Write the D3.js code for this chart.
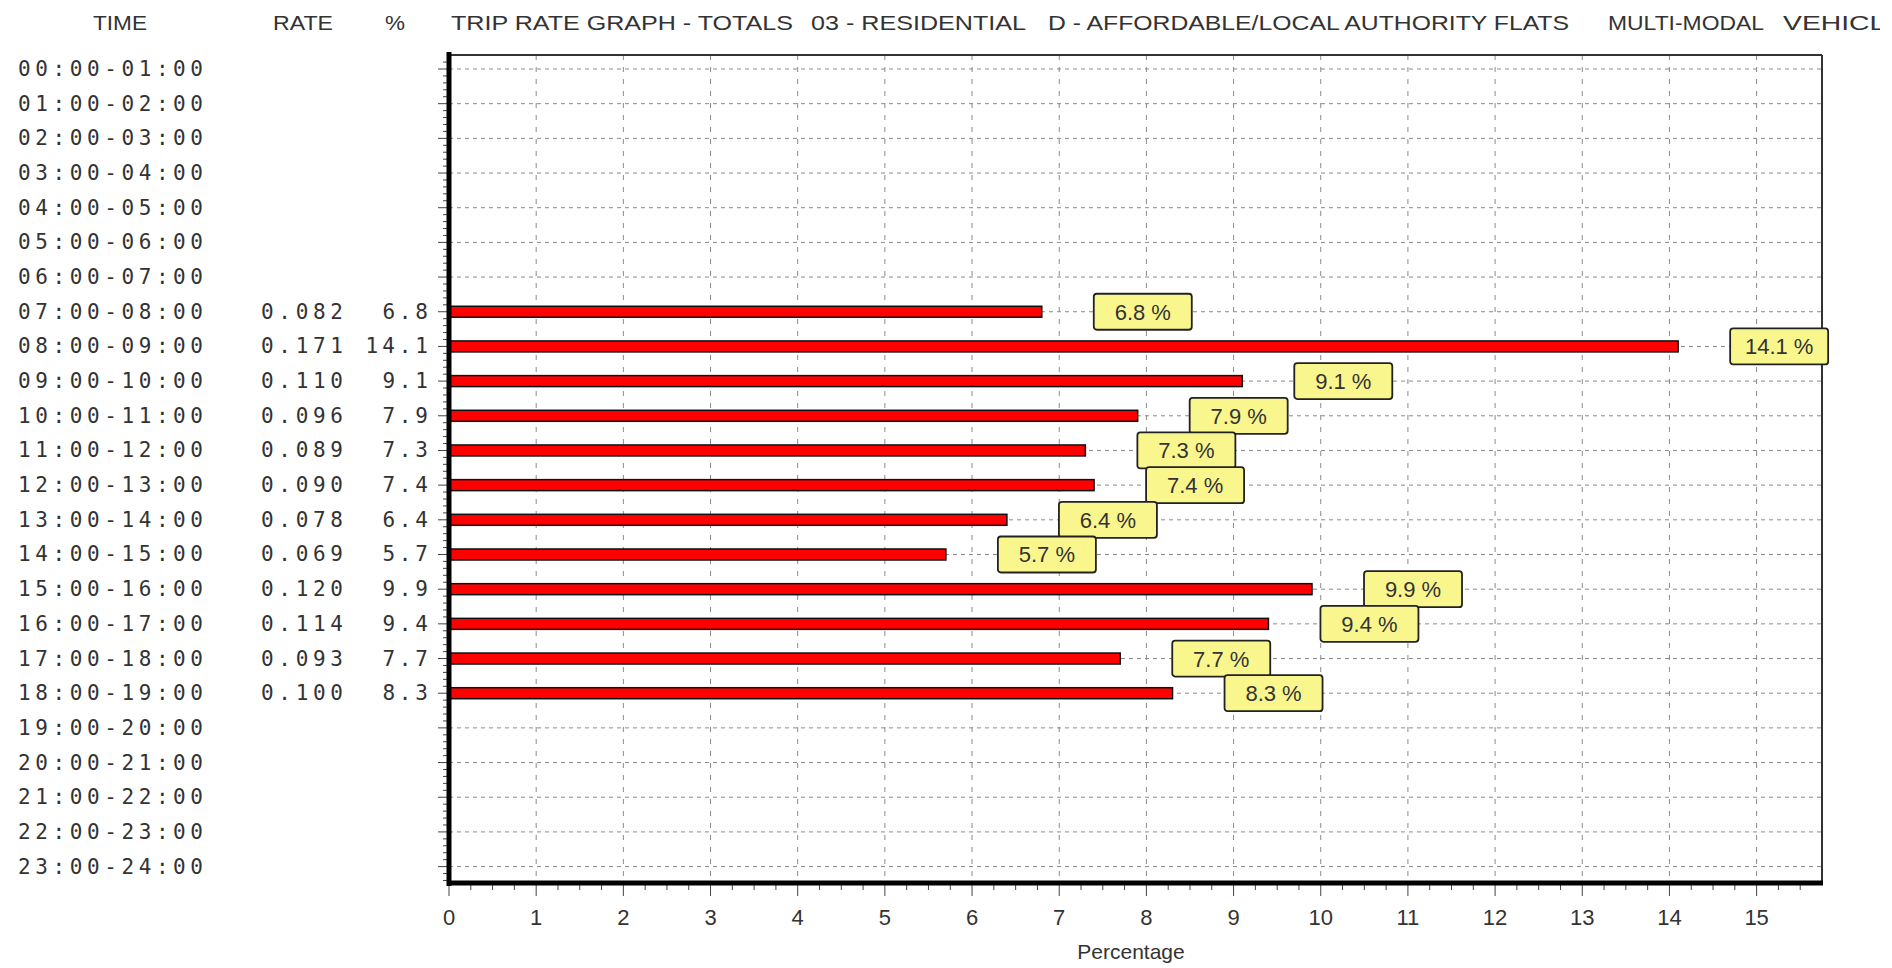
<!doctype html>
<html lang="en">
<head>
    <meta charset="utf-8">
    <title>Trip rate graph</title>
    <script src="https://cdnjs.cloudflare.com/ajax/libs/d3/7.8.5/d3.min.js" type="text/JavaScript"></script>
    <style>
        body { margin: 0; background: #fff; }
        svg { display: block; }
    </style>
</head>
<body>
<script>

    // values
    const times = ["00:00-01:00", "01:00-02:00", "02:00-03:00", "03:00-04:00", "04:00-05:00",
        "05:00-06:00", "06:00-07:00", "07:00-08:00", "08:00-09:00", "09:00-10:00", "10:00-11:00",
        "11:00-12:00", "12:00-13:00", "13:00-14:00", "14:00-15:00", "15:00-16:00", "16:00-17:00",
        "17:00-18:00", "18:00-19:00", "19:00-20:00", "20:00-21:00", "21:00-22:00", "22:00-23:00",
        "23:00-24:00"];
    const rates = [null, null, null, null, null, null, null, 0.082, 0.171, 0.110, 0.096, 0.089,
        0.090, 0.078, 0.069, 0.120, 0.114, 0.093, 0.100, null, null, null, null, null];
    const pcts = [null, null, null, null, null, null, null, 6.8, 14.1, 9.1, 7.9, 7.3,
        7.4, 6.4, 5.7, 9.9, 9.4, 7.7, 8.3, null, null, null, null, null];
    const xTicks = d3.range(0, 16);
    const headers = ["TIME", "RATE", "%"];
    const titleParts = ["TRIP RATE GRAPH - TOTALS", "03 - RESIDENTIAL", "D - AFFORDABLE/LOCAL AUTHORITY FLATS",
        "MULTI-MODAL", "VEHICLES"];

    const width = 1892, height = 968;
    const plotL = 449, plotR = 1822, plotT = 55, plotB = 883;

    const x = d3.scaleLinear().domain([0, 15.75]).range([plotL, plotR]);
    const y = d3.scalePoint().domain(times).range([69, 866.6]);
    const step = y.step();

    const svg = d3.select("body").append("svg")
        .attr("width", width)
        .attr("height", height);

    svg.append("defs").append("clipPath").attr("id", "titleClip")
        .append("rect").attr("x", 0).attr("y", 0).attr("width", 1880).attr("height", 50);

    // header
    const sans = "'Liberation Sans', Arial, sans-serif";
    const headerX = [120, 303, 395];
    svg.selectAll("text.head")
        .data(headers)
        .join("text")
        .attr("class", "head")
        .attr("x", (d, i) => headerX[i])
        .attr("y", 30)
        .attr("text-anchor", "middle")
        .attr("font-family", sans)
        .attr("font-size", 21)
        .attr("fill", "#333")
        .attr("textLength", (d, i) => [54, 60, 20][i])
        .attr("lengthAdjust", "spacingAndGlyphs")
        .text(d => d);

    const titleX = [451, 811, 1048, 1608, 1783];
    const titleW = [342, 215, 521, 156, 140];
    svg.append("g").attr("clip-path", "url(#titleClip)")
        .selectAll("text")
        .data(titleParts)
        .join("text")
        .attr("x", (d, i) => titleX[i])
        .attr("y", 30)
        .attr("font-family", sans)
        .attr("font-size", 21)
        .attr("fill", "#333")
        .attr("textLength", (d, i) => titleW[i])
        .attr("lengthAdjust", "spacingAndGlyphs")
        .text(d => d);

    // gridlines
    const grid = svg.append("g");
    grid.selectAll("line.h")
        .data(times)
        .join("line")
        .attr("class", "h")
        .attr("x1", plotL).attr("x2", plotR)
        .attr("y1", d => y(d)).attr("y2", d => y(d))
        .attr("stroke", "#8a8a8a")
        .attr("stroke-width", 1)
        .attr("stroke-dasharray", "4,4");
    grid.selectAll("line.v")
        .data(xTicks.slice(1))
        .join("line")
        .attr("class", "v")
        .attr("x1", d => x(d)).attr("x2", d => x(d))
        .attr("y1", plotT).attr("y2", plotB)
        .attr("stroke", "#8a8a8a")
        .attr("stroke-width", 1)
        .attr("stroke-dasharray", "5,7");

    // frame
    svg.append("line")
        .attr("x1", plotL).attr("x2", plotR)
        .attr("y1", plotT).attr("y2", plotT)
        .attr("stroke", "#333").attr("stroke-width", 2);
    svg.append("line")
        .attr("x1", plotR).attr("x2", plotR)
        .attr("y1", plotT).attr("y2", plotB)
        .attr("stroke", "#333").attr("stroke-width", 2);

    // ticks left (major at rows, minor at fifths)
    const leftTicks = d3.range(-1, times.length * 5 + 2).map(k => ({v: 69 + k * step / 5, major: k % 5 === 0}))
        .filter(t => t.v > plotT && t.v < plotB);
    svg.append("g").selectAll("line")
        .data(leftTicks)
        .join("line")
        .attr("x1", d => d.major ? plotL - 11 : plotL - 6)
        .attr("x2", plotL)
        .attr("y1", d => d.v).attr("y2", d => d.v)
        .attr("stroke", "#444").attr("stroke-width", 1);

    // ticks bottom (major integers, minor quarters)
    const bottomTicks = d3.range(0, 15.75, 0.25);
    svg.append("g").selectAll("line")
        .data(bottomTicks)
        .join("line")
        .attr("x1", d => x(d)).attr("x2", d => x(d))
        .attr("y1", plotB)
        .attr("y2", d => Number.isInteger(d) ? plotB + 13 : plotB + 7)
        .attr("stroke", "#444").attr("stroke-width", 1);

    svg.append("g").selectAll("text")
        .data(xTicks)
        .join("text")
        .attr("x", d => x(d))
        .attr("y", 925)
        .attr("text-anchor", "middle")
        .attr("font-family", sans)
        .attr("font-size", 22)
        .attr("fill", "#333")
        .text(d => d);

    svg.append("text")
        .attr("x", 1131)
        .attr("y", 959)
        .attr("text-anchor", "middle")
        .attr("font-family", sans)
        .attr("font-size", 21)
        .attr("fill", "#333")
        .text("Percentage");

    // bars
    const rows = times.map((t, i) => ({time: t, rate: rates[i], pct: pcts[i]}));
    const withData = rows.filter(d => d.pct !== null);

    svg.append("g").selectAll("rect")
        .data(withData)
        .join("rect")
        .attr("x", x(0))
        .attr("y", d => y(d.time) - 5.5)
        .attr("width", d => x(d.pct) - x(0))
        .attr("height", 11)
        .attr("fill", "#ff0000")
        .attr("stroke", "#111")
        .attr("stroke-width", 1.5);

    // axes lines on top
    svg.append("line")
        .attr("x1", plotL).attr("x2", plotL)
        .attr("y1", plotT - 3).attr("y2", plotB + 3)
        .attr("stroke", "#000").attr("stroke-width", 5);
    svg.append("line")
        .attr("x1", plotL).attr("x2", plotR + 1)
        .attr("y1", plotB).attr("y2", plotB)
        .attr("stroke", "#000").attr("stroke-width", 5);

    // value labels
    const lab = svg.append("g").selectAll("g")
        .data(withData)
        .join("g")
        .attr("transform", d => `translate(${x(d.pct) + 52},${y(d.time)})`);
    lab.append("rect")
        .attr("x", 0).attr("y", -18)
        .attr("width", 98).attr("height", 36)
        .attr("rx", 3)
        .attr("fill", "#faf68e")
        .attr("stroke", "#222")
        .attr("stroke-width", 1.8);
    lab.append("text")
        .attr("x", 49).attr("y", 8)
        .attr("text-anchor", "middle")
        .attr("font-family", sans)
        .attr("font-size", 22)
        .attr("fill", "#333")
        .text(d => d.pct.toFixed(1) + " %");

    // left table
    const mono = "'DejaVu Sans Mono', monospace";
    const table = svg.append("g")
        .attr("font-family", mono)
        .attr("font-size", 21)
        .attr("fill", "#333");
    table.selectAll("text.t")
        .data(rows)
        .join("text")
        .attr("class", "t")
        .attr("x", 18)
        .attr("y", d => y(d.time) + 7)
        .attr("textLength", 185)
        .attr("lengthAdjust", "spacing")
        .text(d => d.time);
    table.selectAll("text.r")
        .data(withData)
        .join("text")
        .attr("class", "r")
        .attr("x", 261)
        .attr("y", d => y(d.time) + 7)
        .attr("textLength", 82)
        .attr("lengthAdjust", "spacing")
        .text(d => d.rate.toFixed(3));
    table.selectAll("text.p")
        .data(withData)
        .join("text")
        .attr("class", "p")
        .attr("x", d => 428 - (d.pct.toFixed(1).length * 16.8 - 4.8))
        .attr("y", d => y(d.time) + 7)
        .attr("textLength", d => d.pct.toFixed(1).length * 16.8 - 4.8)
        .attr("lengthAdjust", "spacing")
        .text(d => d.pct.toFixed(1));

</script>
</body>
</html>
